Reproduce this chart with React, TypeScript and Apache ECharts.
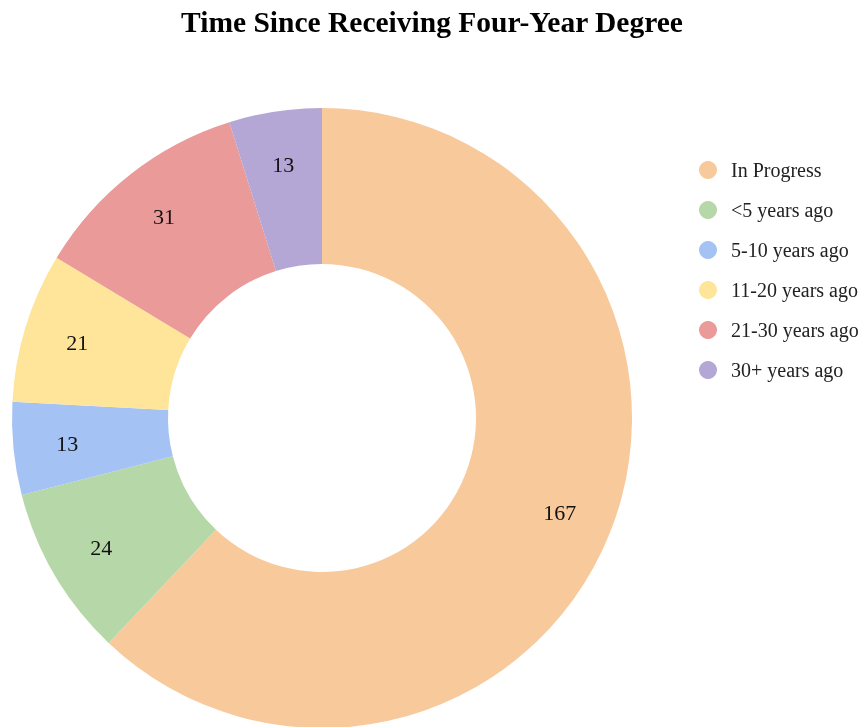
import React, { useEffect, useRef } from "react";
import * as echarts from "echarts";

const titleText = "Time Since Receiving Four-Year Degree";
const categories = ["In Progress", "<5 years ago", "5-10 years ago", "11-20 years ago", "21-30 years ago", "30+ years ago"];
const values = [167, 24, 13, 21, 31, 13];
const colors = ["#F8C99B", "#B6D7A8", "#A4C2F4", "#FFE599", "#E99A99", "#B4A7D6"];

const FONT = "'Liberation Serif', 'Times New Roman', serif";

export default function App() {
  const ref = useRef<HTMLDivElement>(null);
  useEffect(() => {
    if (!ref.current) return;
    const chart = echarts.init(ref.current, undefined, { renderer: "svg" });
    const data = categories.map((name, i) => ({ name, value: values[i], itemStyle: { color: colors[i] } }));
    chart.setOption({
      animation: false,
      title: {
        text: titleText,
        left: "center",
        top: 2,
        textStyle: { fontFamily: FONT, fontSize: 29.5, fontWeight: "bold", color: "#000" },
      },
      legend: {
        orient: "vertical",
        left: 694,
        top: 155,
        icon: "circle",
        itemWidth: 18,
        itemHeight: 18,
        itemGap: 20,
        data: categories,
        textStyle: { fontFamily: FONT, fontSize: 20, color: "#222", padding: [0, 0, 0, 9] },
      },
      series: [
        {
          type: "pie",
          center: [322, 418],
          radius: [154, 310],
          startAngle: 90,
          clockwise: true,
          label: { show: false },
          labelLine: { show: false },
          emphasis: { disabled: true },
          data,
        },
        {
          type: "pie",
          center: [322, 418],
          radius: [196, 310],
          startAngle: 90,
          clockwise: true,
          silent: true,
          legendHoverLink: false,
          itemStyle: { color: "transparent" },
          label: {
            show: true,
            position: "inside",
            formatter: "{c}",
            fontFamily: FONT,
            fontSize: 22,
            color: "#111",
          },
          labelLine: { show: false },
          emphasis: { disabled: true },
          data: categories.map((name, i) => ({ name: name + " ", value: values[i], itemStyle: { color: "rgba(0,0,0,0)" } })),
        },
      ],
    });
    return () => chart.dispose();
  }, []);
  return <div ref={ref} style={{ position: "fixed", left: 0, top: 0, width: 864, height: 727 }} />;
}
